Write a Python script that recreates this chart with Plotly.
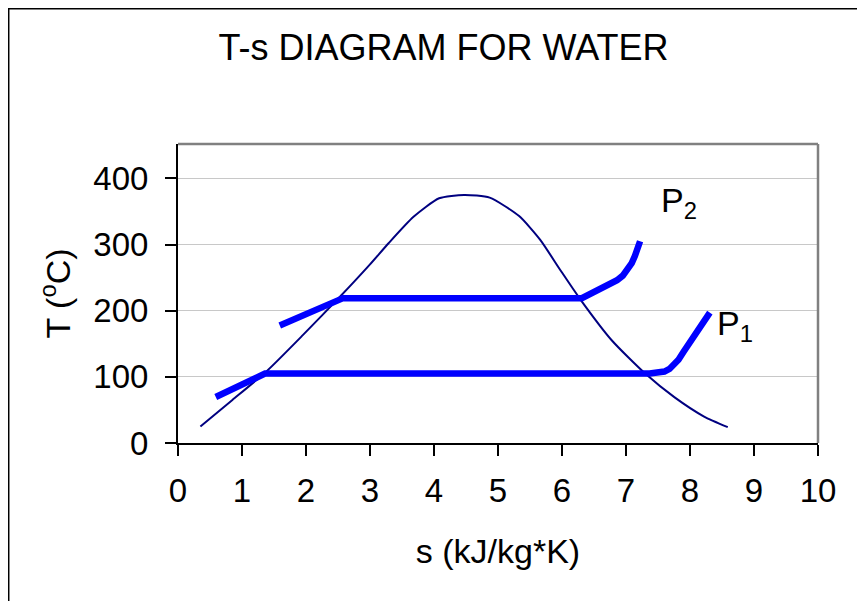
import plotly.graph_objects as go

# Saturation dome (s in kJ/kg*K, T in deg C)
dome_s = [0.35, 0.85, 1.39, 1.95, 2.53, 3.0, 3.29, 3.68, 4.08, 4.47, 4.87, 5.33, 5.66, 5.97, 6.28, 6.78, 7.30, 7.76, 8.22, 8.59]
dome_T = [25, 65, 109, 163, 221, 270, 302, 342, 370, 375, 371, 343, 307, 262, 218, 155, 105, 69, 40, 24]

# Constant pressure line P1
p1_s = [0.59, 1.36, 7.37, 7.50, 7.60, 7.68, 7.75, 7.82, 7.90, 7.98, 8.06, 8.14, 8.22, 8.31]
p1_T = [69.5, 105, 105, 105.5, 108, 112, 118, 126, 138, 150, 163, 176, 186, 197]

# Constant pressure line P2
p2_s = [1.59, 2.58, 6.31, 6.45, 6.60, 6.75, 6.86, 6.95, 7.03, 7.09, 7.14, 7.18, 7.22]
p2_T = [177.7, 219, 219, 226, 233, 240, 246, 253, 262, 272, 283, 294, 305]

x_ticks = [0, 1, 2, 3, 4, 5, 6, 7, 8, 9, 10]
y_ticks = [0, 100, 200, 300, 400]

FONT = "Liberation Sans, Arial, sans-serif"

fig = go.Figure()
fig.add_trace(go.Scatter(x=dome_s, y=dome_T, mode="lines",
                         line=dict(color="#000080", width=2, shape="spline", smoothing=0.6),
                         name="Saturation", showlegend=False))
fig.add_trace(go.Scatter(x=p1_s, y=p1_T, mode="lines",
                         line=dict(color="#0000FF", width=6.5),
                         name="P1", showlegend=False))
fig.add_trace(go.Scatter(x=p2_s, y=p2_T, mode="lines",
                         line=dict(color="#0000FF", width=6.5),
                         name="P2", showlegend=False))

fig.add_annotation(x=7.52, y=364, text="P<sub>2</sub>", showarrow=False,
                   xanchor="left", yanchor="middle", font=dict(size=34, color="black", family=FONT))
fig.add_annotation(x=8.39, y=178, text="P<sub>1</sub>", showarrow=False,
                   xanchor="left", yanchor="middle", font=dict(size=34, color="black", family=FONT))

# outer chart border
fig.add_shape(type="rect", xref="paper", yref="paper",
              x0=-0.2645, x1=1.2, y0=-0.7, y1=1.452,
              line=dict(color="black", width=1.5), layer="below")

fig.update_layout(
    width=857, height=593,
    margin=dict(l=170, r=47, t=136, b=158, autoexpand=False),
    paper_bgcolor="white", plot_bgcolor="white",
    font=dict(family=FONT, size=33, color="black"),
    title=dict(text="T-s DIAGRAM FOR WATER", x=0.5082, xanchor="center",
               y=0.9334, yanchor="middle", xref="container", yref="container",
               font=dict(size=36, family=FONT, color="black")),
    xaxis=dict(range=[0, 10], tickvals=x_ticks, ticks="outside", ticklen=11, tickwidth=1.5,
               tickcolor="black", showline=True, linecolor="black", linewidth=2,
               mirror=False, showgrid=False, zeroline=False,
               title=dict(text="s (kJ/kg*K)", font=dict(size=34), standoff=32),
               tickfont=dict(size=33), ticklabelstandoff=6),
    yaxis=dict(range=[0, 452], tickvals=y_ticks, ticks="outside", ticklen=11, tickwidth=1.5,
               tickcolor="black", showline=True, linecolor="black", linewidth=2,
               showgrid=True, gridcolor="#c8c8c8", gridwidth=1, zeroline=False,
               title=dict(text="T (<sup>o</sup>C)", font=dict(size=34), standoff=12),
               tickfont=dict(size=33), ticklabelstandoff=10),
)

# plot-area frame (gray top/right)
fig.add_shape(type="line", xref="paper", yref="paper", x0=0, x1=1, y0=1, y1=1,
              line=dict(color="#808080", width=2.5))
fig.add_shape(type="line", xref="paper", yref="paper", x0=1, x1=1, y0=0, y1=1,
              line=dict(color="#808080", width=2.5))

fig.write_html("out.html")
